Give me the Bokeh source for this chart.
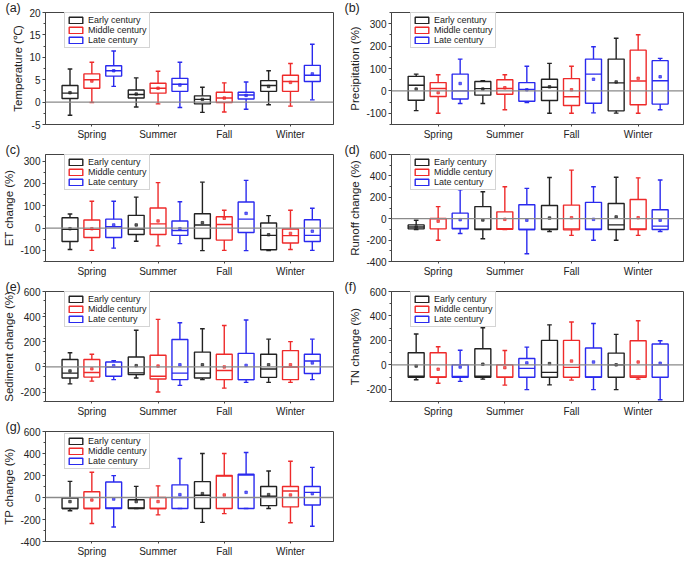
import numpy as np
from bokeh.plotting import figure
from bokeh.layouts import gridplot
from bokeh.models import (ColumnDataSource, FixedTicker, Legend, LegendItem,
                          Span, Range1d)
from bokeh.embed import file_html
from bokeh.resources import INLINE

seasons = ["Spring", "Summer", "Fall", "Winter"]
periods = ["Early century", "Middle century", "Late century"]

# each row: (low whisker, Q1, median, Q3, high whisker, mean) for Spring, Summer, Fall, Winter
temp_early = [(-2.95, 0.8, 2.0, 3.7, 7.4, 2.1), (-1.1, 0.9, 1.7, 2.7, 5.4, 1.8),
              (-2.3, -0.4, 0.6, 1.4, 3.3, 0.6), (-0.6, 2.4, 3.7, 4.8, 7.0, 3.5)]
temp_middle = [(-0.1, 3.1, 5.0, 6.3, 8.9, 4.7), (-0.4, 2.0, 3.1, 4.2, 6.9, 3.1),
               (-2.2, -0.1, 0.9, 2.2, 4.3, 0.9), (-0.9, 2.4, 4.6, 6.0, 8.6, 4.4)]
temp_late = [(3.5, 5.8, 7.0, 8.1, 11.4, 7.0), (-1.2, 2.4, 4.0, 5.3, 8.9, 3.8),
             (-1.6, 0.7, 1.6, 2.2, 4.5, 1.5), (0.5, 4.6, 6.0, 8.2, 12.9, 6.3)]

prec_early = [(-88, -42, 25, 65, 75, 8), (-56, -19, 10, 42, 46, 8),
              (-100, -43, 16, 52, 123, 18), (-99, -89, 36, 142, 235, 40)]
prec_middle = [(-100, -25, 11, 37, 72, -8), (-84, -15, 11, 50, 72, 14),
               (-100, -65, -26, 55, 110, 5), (-100, -62, 44, 182, 251, 56)]
prec_late = [(-56, -36, 0, 75, 142, 33), (-52, -46, 7, 37, 110, 5),
             (-98, -55, 75, 142, 197, 52), (-84, -59, 45, 135, 145, 63)]

et_early = [(-96, -60, -6, 46, 63, -3), (-59, -29, -4, 57, 139, 14),
            (-101, -47, 14, 64, 206, 24), (-101, -97, -33, 23, 56, -30)]
et_middle = [(-100, -42, -6, 36, 120, -3), (-80, -29, 19, 90, 204, 32),
             (-100, -54, 16, 51, 80, 44), (-96, -67, -34, -4, 80, -24)]
et_late = [(-90, -42, 6, 40, 120, 14), (-70, -33, -11, 32, 118, -3),
           (-101, -20, 40, 117, 214, 66), (-100, -60, -33, 37, 89, -14)]

runoff_early = [(-101, -95, -78, -58, -14, -78), (-188, -101, -98, 113, 252, -12),
                (-119, -101, -98, 124, 385, 6), (-202, -101, -58, 142, 388, 17)]
runoff_middle = [(-202, -95, 0, 3, 113, -23), (-101, -98, -93, 64, 298, -6),
                 (-156, -104, -95, 127, 454, 9), (-156, -101, -95, 179, 382, 9)]
runoff_late = [(-139, -95, -90, 52, 269, -9), (-327, -101, -101, 130, 283, -14),
               (-202, -101, -98, 153, 298, -6), (-119, -101, -69, 84, 361, -14)]

sed_early = [(-135, -88, -49, 59, 113, -32), (-88, -61, -47, 79, 292, 10),
             (-101, -88, -49, 118, 304, 17), (-123, -83, -17, 101, 221, 17)]
sed_middle = [(-113, -81, -44, 59, 101, -15), (-199, -96, -74, 93, 378, 7),
              (-169, -101, -29, 101, 329, 0), (-123, -101, 0, 130, 201, 17)]
sed_late = [(-101, -74, 0, 39, 49, 10), (-147, -101, -49, 218, 351, 17),
            (-123, -101, -101, 108, 373, 12), (-101, -52, 47, 101, 221, 32)]

tn_early = [(-122, -101, -94, 99, 252, -10), (-117, -101, -94, 132, 304, 5),
            (-164, -101, -62, 200, 327, 10), (-203, -101, 0, 96, 249, 0)]
tn_middle = [(-151, -101, -100, 99, 148, -36), (-166, -101, -101, 0, 117, -23),
             (-125, -101, -21, 200, 351, 31), (-117, -101, -91, 197, 361, 23)]
tn_late = [(-135, -101, -96, 0, 119, -18), (-203, -101, -29, 52, 145, 16),
           (-203, -101, -100, 138, 338, 23), (-286, -101, 0, 171, 197, 13)]

tp_early = [(-120, -100, -100, -5, 147, -37), (-100, -100, -95, -20, 101, -37),
            (-226, -100, 20, 144, 400, 35), (-100, -74, 12, 100, 241, 26)]
tp_middle = [(-236, -100, -100, 52, 230, -23), (-158, -100, -100, 0, 106, -37),
             (-147, -100, 196, 200, 400, 23), (-229, -85, 59, 100, 329, 23)]
tp_late = [(-268, -100, -95, 141, 199, -14), (-100, -100, 0, 115, 354, 26),
           (-100, -100, 205, 212, 409, 47), (-262, -68, 47, 100, 274, 35)]

panels = [
    ("(a)", "Temperature (\u2103)", [temp_early, temp_middle, temp_late], (-5, 20), [-5, 0, 5, 10, 15, 20]),
    ("(b)", "Precipitation (%)", [prec_early, prec_middle, prec_late], (-150, 350), [-100, 0, 100, 200, 300]),
    ("(c)", "ET change (%)", [et_early, et_middle, et_late], (-150, 330), [-100, 0, 100, 200, 300]),
    ("(d)", "Runoff change (%)", [runoff_early, runoff_middle, runoff_late], (-400, 600), [-400, -200, 0, 200, 400, 600]),
    ("(e)", "Sediment change (%)", [sed_early, sed_middle, sed_late], (-275, 600), [-200, 0, 200, 400, 600]),
    ("(f)", "TN change (%)", [tn_early, tn_middle, tn_late], (-300, 600), [-200, 0, 200, 400, 600]),
    ("(g)", "TP change (%)", [tp_early, tp_middle, tp_late], (-400, 600), [-400, -200, 0, 200, 400, 600]),
]

colors = ["#222222", "#ee2a2a", "#2a2aee"]
offsets = [-0.33, 0.0, 0.33]
BW = 0.24
CAP = 0.035
LW = 1.4
FONT = "Liberation Sans"

# (height, bottom border) per row; the top border holds the panel tag
rows_geom = [(142, 16), (137, 16), (140, 16), (144, 22)]
TITLE_H = 11


def make_panel(idx):
    tag, ylabel, data, yr, yticks = panels[idx]
    row, colpos = divmod(idx, 2)
    h, bb = rows_geom[row]
    if colpos == 0:
        w, bl, br, xr = 340, 44, 7, (0.3, 4.65)
    else:
        w, bl, br, xr = 345, 51, 2, (0.3, 4.68)
    p = figure(width=w, height=h, output_backend="svg", toolbar_location=None,
               x_range=Range1d(*xr), y_range=Range1d(*yr),
               min_border_left=bl, min_border_right=br,
               min_border_top=0, min_border_bottom=bb)
    p.xgrid.visible = False
    p.ygrid.visible = False
    p.outline_line_color = "#444444"
    p.outline_line_width = 1
    p.background_fill_color = "white"

    p.title.text = tag
    p.title.align = "left"
    p.title.offset = -(bl - 4)
    p.title.standoff = -4
    p.title.text_font = FONT
    p.title.text_font_size = "12.5px"
    p.title.text_font_style = "normal"
    p.title.text_color = "#222222"

    p.add_layout(Span(location=0, dimension="width", line_color="#8a8a8a", line_width=1.3))

    items = []
    for k in range(3):
        arr = np.array(data[k], dtype=float)
        xs = np.arange(1, 5) + offsets[k]
        src = ColumnDataSource(dict(
            x=xs, low=arr[:, 0], q1=arr[:, 1], med=arr[:, 2], q3=arr[:, 3],
            high=arr[:, 4], mean=arr[:, 5], xl=xs - CAP, xr=xs + CAP,
            ml=xs - BW / 2, mr=xs + BW / 2))
        c = colors[k]
        p.segment("x", "q3", "x", "high", source=src, line_color=c, line_width=LW)
        p.segment("x", "low", "x", "q1", source=src, line_color=c, line_width=LW)
        p.segment("xl", "high", "xr", "high", source=src, line_color=c, line_width=LW)
        p.segment("xl", "low", "xr", "low", source=src, line_color=c, line_width=LW)
        box = p.vbar(x="x", width=BW, bottom="q1", top="q3", source=src,
                     fill_alpha=0, line_color=c, line_width=LW)
        p.segment("ml", "med", "mr", "med", source=src, line_color=c, line_width=LW)
        p.scatter("x", "mean", source=src, marker="square", size=2.5,
                  color=c, alpha=0.7)
        items.append(LegendItem(label=periods[k], renderers=[box]))

    fh = h - TITLE_H - bb
    leg = Legend(items=items, location=(19, fh - 39), orientation="vertical",
                 border_line_color="#aaaaaa", border_line_width=1,
                 background_fill_color="white", background_fill_alpha=1,
                 label_text_font=FONT, label_text_font_size="9px",
                 label_text_color="#222222",
                 glyph_width=17, glyph_height=8, label_height=10,
                 label_standoff=4, spacing=0, padding=2, margin=0)
    p.add_layout(leg)

    for ax in (p.xaxis[0], p.yaxis[0]):
        ax.axis_line_color = "#444444"
        ax.major_tick_line_color = "#444444"
        ax.minor_tick_line_color = "#444444"
        ax.major_label_text_font = FONT
        ax.major_label_text_font_size = "10px"
        ax.major_label_text_color = "#222222"
        ax.major_tick_out = 3
        ax.major_tick_in = 0
        ax.major_label_standoff = 2
    p.xaxis.ticker = FixedTicker(ticks=[1, 2, 3, 4])
    p.xaxis.major_label_overrides = {i + 1: s for i, s in enumerate(seasons)}
    p.xaxis.minor_tick_line_color = None
    p.xaxis.major_tick_out = 2
    p.yaxis.ticker = FixedTicker(ticks=yticks,
                                 minor_ticks=list(np.arange(yr[0], yr[1] + 1e-9,
                                                            (yticks[1] - yticks[0]) / 2)))
    p.yaxis.minor_tick_out = 2
    p.yaxis.minor_tick_in = 0
    p.yaxis.major_label_overrides = {t: str(t) for t in yticks}
    p.yaxis.axis_label = ylabel
    p.yaxis.axis_label_text_font = FONT
    p.yaxis.axis_label_text_font_size = "11.5px"
    p.yaxis.axis_label_text_font_style = "normal"
    p.yaxis.axis_label_text_color = "#222222"
    p.yaxis.axis_label_standoff = 2
    return p


figs = [make_panel(i) for i in range(7)]
grid = gridplot([[figs[0], figs[1]], [figs[2], figs[3]],
                 [figs[4], figs[5]], [figs[6], None]],
                toolbar_location=None)

open("out.html", "w").write(file_html(grid, INLINE))
